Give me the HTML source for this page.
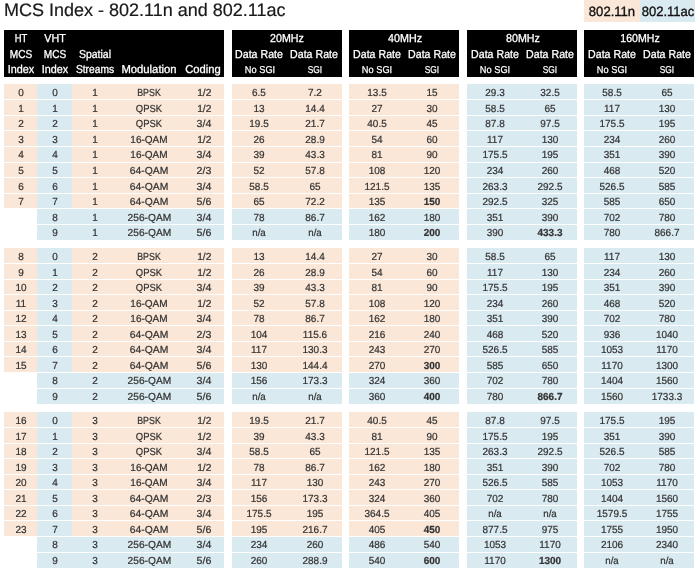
<!DOCTYPE html>
<html><head><meta charset="utf-8"><title>MCS Index</title><style>
html,body{margin:0;padding:0;background:#fff;}
body{filter:blur(0.5px);width:700px;height:572px;position:relative;overflow:hidden;font-family:"Liberation Sans",Arial,sans-serif;text-rendering:geometricPrecision;}
.b{position:absolute;}
.t{position:absolute;height:0;line-height:0;text-align:center;white-space:nowrap;}
.d{font-size:10.2px;color:#333333;-webkit-text-stroke:0.22px #333333;}
.m{font-size:10.2px;color:#333333;-webkit-text-stroke:0.22px #333333;}
.bo{font-weight:bold;}
.h{font-size:11.5px;color:#ffffff;-webkit-text-stroke:0.3px #ffffff;}
.s{font-size:10px;color:#ffffff;-webkit-text-stroke:0.25px #ffffff;}
.leg{font-size:13.5px;color:#111;-webkit-text-stroke:0.35px #111;}
.title{position:absolute;left:4px;top:0;font-size:18px;color:#1a1a1a;-webkit-text-stroke:0.2px #1a1a1a;white-space:nowrap;line-height:21px;}
</style></head>
<body>
<div class="title">MCS Index - 802.11n and 802.11ac</div>
<div class="b" style="left:584.4px;top:0px;width:55.20px;height:22.00px;background:#fbe7d7"></div>
<div class="b" style="left:639.6px;top:0px;width:55.20px;height:22.00px;background:#daeaf1"></div>
<div class="t leg" style="left:582.20px;top:11.92px;width:60px;transform:scaleX(0.969)">802.11n</div>
<div class="t leg" style="left:637.70px;top:11.92px;width:60px;transform:scaleX(0.964)">802.11ac</div>
<div class="b" style="left:4px;top:30px;width:220.00px;height:46.60px;background:#000"></div>
<div class="b" style="left:231.8px;top:30px;width:110.00px;height:46.60px;background:#000"></div>
<div class="b" style="left:349.4px;top:30px;width:110.00px;height:46.60px;background:#000"></div>
<div class="b" style="left:467.0px;top:30px;width:110.00px;height:46.60px;background:#000"></div>
<div class="b" style="left:584.4px;top:30px;width:110.00px;height:46.60px;background:#000"></div>
<div class="t h" style="left:-19.40px;top:38.92px;width:80px;transform:scaleX(0.819)">HT</div>
<div class="t h" style="left:14.60px;top:38.92px;width:80px;transform:scaleX(0.935)">VHT</div>
<div class="t h" style="left:-19.10px;top:54.72px;width:80px;transform:scaleX(0.877)">MCS</div>
<div class="t h" style="left:14.90px;top:54.72px;width:80px;transform:scaleX(0.877)">MCS</div>
<div class="t h" style="left:54.50px;top:54.72px;width:80px;transform:scaleX(0.911)">Spatial</div>
<div class="t h" style="left:-19.00px;top:69.72px;width:80px;transform:scaleX(0.939)">Index</div>
<div class="t h" style="left:15.00px;top:69.72px;width:80px;transform:scaleX(0.939)">Index</div>
<div class="t h" style="left:55.00px;top:69.72px;width:80px;transform:scaleX(0.891)">Streams</div>
<div class="t h" style="left:109.10px;top:69.72px;width:80px;transform:scaleX(0.979)">Modulation</div>
<div class="t h" style="left:162.60px;top:69.72px;width:80px;transform:scaleX(0.973)">Coding</div>
<div class="t h" style="left:247.30px;top:38.72px;width:80px;transform:scaleX(0.927)">20MHz</div>
<div class="t h" style="left:219.30px;top:54.72px;width:80px;transform:scaleX(0.923)">Data Rate</div>
<div class="t h" style="left:274.30px;top:54.72px;width:80px;transform:scaleX(0.923)">Data Rate</div>
<div class="t s" style="left:219.60px;top:70.83px;width:80px;transform:scaleX(0.924)">No SGI</div>
<div class="t s" style="left:274.60px;top:70.83px;width:80px;transform:scaleX(0.835)">SGI</div>
<div class="t h" style="left:364.90px;top:38.72px;width:80px;transform:scaleX(0.935)">40MHz</div>
<div class="t h" style="left:336.90px;top:54.72px;width:80px;transform:scaleX(0.923)">Data Rate</div>
<div class="t h" style="left:391.90px;top:54.72px;width:80px;transform:scaleX(0.923)">Data Rate</div>
<div class="t s" style="left:337.20px;top:70.83px;width:80px;transform:scaleX(0.924)">No SGI</div>
<div class="t s" style="left:392.20px;top:70.83px;width:80px;transform:scaleX(0.835)">SGI</div>
<div class="t h" style="left:482.50px;top:38.72px;width:80px;transform:scaleX(0.930)">80MHz</div>
<div class="t h" style="left:454.50px;top:54.72px;width:80px;transform:scaleX(0.923)">Data Rate</div>
<div class="t h" style="left:509.50px;top:54.72px;width:80px;transform:scaleX(0.923)">Data Rate</div>
<div class="t s" style="left:454.80px;top:70.83px;width:80px;transform:scaleX(0.924)">No SGI</div>
<div class="t s" style="left:509.80px;top:70.83px;width:80px;transform:scaleX(0.835)">SGI</div>
<div class="t h" style="left:599.90px;top:38.72px;width:80px;transform:scaleX(0.921)">160MHz</div>
<div class="t h" style="left:571.90px;top:54.72px;width:80px;transform:scaleX(0.923)">Data Rate</div>
<div class="t h" style="left:626.90px;top:54.72px;width:80px;transform:scaleX(0.923)">Data Rate</div>
<div class="t s" style="left:572.20px;top:70.83px;width:80px;transform:scaleX(0.924)">No SGI</div>
<div class="t s" style="left:627.20px;top:70.83px;width:80px;transform:scaleX(0.835)">SGI</div>
<div class="b" style="left:4px;top:84.3px;width:33.00px;height:15.05px;background:#fbe7d7"></div>
<div class="b" style="left:37px;top:84.3px;width:35.00px;height:15.05px;background:#daeaf1"></div>
<div class="b" style="left:72px;top:84.3px;width:152.00px;height:15.05px;background:#fbe7d7"></div>
<div class="b" style="left:231.8px;top:84.3px;width:110.00px;height:15.05px;background:#fbe7d7"></div>
<div class="b" style="left:349.4px;top:84.3px;width:110.00px;height:15.05px;background:#fbe7d7"></div>
<div class="b" style="left:467.0px;top:84.3px;width:110.00px;height:15.05px;background:#daeaf1"></div>
<div class="b" style="left:584.4px;top:84.3px;width:110.00px;height:15.05px;background:#daeaf1"></div>
<div class="t d" style="left:-19.30px;top:94.27px;width:80px;transform:scaleX(0.980)">0</div>
<div class="t d" style="left:14.90px;top:94.27px;width:80px;transform:scaleX(0.980)">0</div>
<div class="t d" style="left:54.80px;top:94.27px;width:80px;transform:scaleX(0.980)">1</div>
<div class="t m" style="left:109.40px;top:94.27px;width:80px;transform:scaleX(0.870)">BPSK</div>
<div class="t d" style="left:164.30px;top:94.27px;width:80px;transform:scaleX(1.000)">1/2</div>
<div class="t d" style="left:219.40px;top:94.27px;width:80px;transform:scaleX(0.980)">6.5</div>
<div class="t d" style="left:274.60px;top:94.27px;width:80px;transform:scaleX(0.980)">7.2</div>
<div class="t d" style="left:337.00px;top:94.27px;width:80px;transform:scaleX(0.980)">13.5</div>
<div class="t d" style="left:392.20px;top:94.27px;width:80px;transform:scaleX(0.980)">15</div>
<div class="t d" style="left:454.60px;top:94.27px;width:80px;transform:scaleX(0.980)">29.3</div>
<div class="t d" style="left:509.80px;top:94.27px;width:80px;transform:scaleX(0.980)">32.5</div>
<div class="t d" style="left:572.00px;top:94.27px;width:80px;transform:scaleX(0.980)">58.5</div>
<div class="t d" style="left:627.20px;top:94.27px;width:80px;transform:scaleX(0.980)">65</div>
<div class="b" style="left:4px;top:100.35px;width:33.00px;height:14.55px;background:#fbe7d7"></div>
<div class="b" style="left:37px;top:100.35px;width:35.00px;height:14.55px;background:#daeaf1"></div>
<div class="b" style="left:72px;top:100.35px;width:152.00px;height:14.55px;background:#fbe7d7"></div>
<div class="b" style="left:231.8px;top:100.35px;width:110.00px;height:14.55px;background:#fbe7d7"></div>
<div class="b" style="left:349.4px;top:100.35px;width:110.00px;height:14.55px;background:#fbe7d7"></div>
<div class="b" style="left:467.0px;top:100.35px;width:110.00px;height:14.55px;background:#daeaf1"></div>
<div class="b" style="left:584.4px;top:100.35px;width:110.00px;height:14.55px;background:#daeaf1"></div>
<div class="t d" style="left:-19.30px;top:109.82px;width:80px;transform:scaleX(0.980)">1</div>
<div class="t d" style="left:14.90px;top:109.82px;width:80px;transform:scaleX(0.980)">1</div>
<div class="t d" style="left:54.80px;top:109.82px;width:80px;transform:scaleX(0.980)">1</div>
<div class="t m" style="left:109.40px;top:109.82px;width:80px;transform:scaleX(0.929)">QPSK</div>
<div class="t d" style="left:164.30px;top:109.82px;width:80px;transform:scaleX(1.000)">1/2</div>
<div class="t d" style="left:219.40px;top:109.82px;width:80px;transform:scaleX(0.980)">13</div>
<div class="t d" style="left:274.60px;top:109.82px;width:80px;transform:scaleX(0.980)">14.4</div>
<div class="t d" style="left:337.00px;top:109.82px;width:80px;transform:scaleX(0.980)">27</div>
<div class="t d" style="left:392.20px;top:109.82px;width:80px;transform:scaleX(0.980)">30</div>
<div class="t d" style="left:454.60px;top:109.82px;width:80px;transform:scaleX(0.980)">58.5</div>
<div class="t d" style="left:509.80px;top:109.82px;width:80px;transform:scaleX(0.980)">65</div>
<div class="t d" style="left:572.00px;top:109.82px;width:80px;transform:scaleX(0.980)">117</div>
<div class="t d" style="left:627.20px;top:109.82px;width:80px;transform:scaleX(0.980)">130</div>
<div class="b" style="left:4px;top:115.9px;width:33.00px;height:14.55px;background:#fbe7d7"></div>
<div class="b" style="left:37px;top:115.9px;width:35.00px;height:14.55px;background:#daeaf1"></div>
<div class="b" style="left:72px;top:115.9px;width:152.00px;height:14.55px;background:#fbe7d7"></div>
<div class="b" style="left:231.8px;top:115.9px;width:110.00px;height:14.55px;background:#fbe7d7"></div>
<div class="b" style="left:349.4px;top:115.9px;width:110.00px;height:14.55px;background:#fbe7d7"></div>
<div class="b" style="left:467.0px;top:115.9px;width:110.00px;height:14.55px;background:#daeaf1"></div>
<div class="b" style="left:584.4px;top:115.9px;width:110.00px;height:14.55px;background:#daeaf1"></div>
<div class="t d" style="left:-19.30px;top:125.37px;width:80px;transform:scaleX(0.980)">2</div>
<div class="t d" style="left:14.90px;top:125.37px;width:80px;transform:scaleX(0.980)">2</div>
<div class="t d" style="left:54.80px;top:125.37px;width:80px;transform:scaleX(0.980)">1</div>
<div class="t m" style="left:109.40px;top:125.37px;width:80px;transform:scaleX(0.929)">QPSK</div>
<div class="t d" style="left:164.30px;top:125.37px;width:80px;transform:scaleX(1.043)">3/4</div>
<div class="t d" style="left:219.40px;top:125.37px;width:80px;transform:scaleX(0.980)">19.5</div>
<div class="t d" style="left:274.60px;top:125.37px;width:80px;transform:scaleX(0.980)">21.7</div>
<div class="t d" style="left:337.00px;top:125.37px;width:80px;transform:scaleX(0.980)">40.5</div>
<div class="t d" style="left:392.20px;top:125.37px;width:80px;transform:scaleX(0.980)">45</div>
<div class="t d" style="left:454.60px;top:125.37px;width:80px;transform:scaleX(0.980)">87.8</div>
<div class="t d" style="left:509.80px;top:125.37px;width:80px;transform:scaleX(0.980)">97.5</div>
<div class="t d" style="left:572.00px;top:125.37px;width:80px;transform:scaleX(0.980)">175.5</div>
<div class="t d" style="left:627.20px;top:125.37px;width:80px;transform:scaleX(0.980)">195</div>
<div class="b" style="left:4px;top:131.45px;width:33.00px;height:14.55px;background:#fbe7d7"></div>
<div class="b" style="left:37px;top:131.45px;width:35.00px;height:14.55px;background:#daeaf1"></div>
<div class="b" style="left:72px;top:131.45px;width:152.00px;height:14.55px;background:#fbe7d7"></div>
<div class="b" style="left:231.8px;top:131.45px;width:110.00px;height:14.55px;background:#fbe7d7"></div>
<div class="b" style="left:349.4px;top:131.45px;width:110.00px;height:14.55px;background:#fbe7d7"></div>
<div class="b" style="left:467.0px;top:131.45px;width:110.00px;height:14.55px;background:#daeaf1"></div>
<div class="b" style="left:584.4px;top:131.45px;width:110.00px;height:14.55px;background:#daeaf1"></div>
<div class="t d" style="left:-19.30px;top:140.92px;width:80px;transform:scaleX(0.980)">3</div>
<div class="t d" style="left:14.90px;top:140.92px;width:80px;transform:scaleX(0.980)">3</div>
<div class="t d" style="left:54.80px;top:140.92px;width:80px;transform:scaleX(0.980)">1</div>
<div class="t m" style="left:109.40px;top:140.92px;width:80px;transform:scaleX(0.984)">16-QAM</div>
<div class="t d" style="left:164.30px;top:140.92px;width:80px;transform:scaleX(1.000)">1/2</div>
<div class="t d" style="left:219.40px;top:140.92px;width:80px;transform:scaleX(0.980)">26</div>
<div class="t d" style="left:274.60px;top:140.92px;width:80px;transform:scaleX(0.980)">28.9</div>
<div class="t d" style="left:337.00px;top:140.92px;width:80px;transform:scaleX(0.980)">54</div>
<div class="t d" style="left:392.20px;top:140.92px;width:80px;transform:scaleX(0.980)">60</div>
<div class="t d" style="left:454.60px;top:140.92px;width:80px;transform:scaleX(0.980)">117</div>
<div class="t d" style="left:509.80px;top:140.92px;width:80px;transform:scaleX(0.980)">130</div>
<div class="t d" style="left:572.00px;top:140.92px;width:80px;transform:scaleX(0.980)">234</div>
<div class="t d" style="left:627.20px;top:140.92px;width:80px;transform:scaleX(0.980)">260</div>
<div class="b" style="left:4px;top:147.0px;width:33.00px;height:14.55px;background:#fbe7d7"></div>
<div class="b" style="left:37px;top:147.0px;width:35.00px;height:14.55px;background:#daeaf1"></div>
<div class="b" style="left:72px;top:147.0px;width:152.00px;height:14.55px;background:#fbe7d7"></div>
<div class="b" style="left:231.8px;top:147.0px;width:110.00px;height:14.55px;background:#fbe7d7"></div>
<div class="b" style="left:349.4px;top:147.0px;width:110.00px;height:14.55px;background:#fbe7d7"></div>
<div class="b" style="left:467.0px;top:147.0px;width:110.00px;height:14.55px;background:#daeaf1"></div>
<div class="b" style="left:584.4px;top:147.0px;width:110.00px;height:14.55px;background:#daeaf1"></div>
<div class="t d" style="left:-19.30px;top:156.47px;width:80px;transform:scaleX(0.980)">4</div>
<div class="t d" style="left:14.90px;top:156.47px;width:80px;transform:scaleX(0.980)">4</div>
<div class="t d" style="left:54.80px;top:156.47px;width:80px;transform:scaleX(0.980)">1</div>
<div class="t m" style="left:109.40px;top:156.47px;width:80px;transform:scaleX(0.984)">16-QAM</div>
<div class="t d" style="left:164.30px;top:156.47px;width:80px;transform:scaleX(1.043)">3/4</div>
<div class="t d" style="left:219.40px;top:156.47px;width:80px;transform:scaleX(0.980)">39</div>
<div class="t d" style="left:274.60px;top:156.47px;width:80px;transform:scaleX(0.980)">43.3</div>
<div class="t d" style="left:337.00px;top:156.47px;width:80px;transform:scaleX(0.980)">81</div>
<div class="t d" style="left:392.20px;top:156.47px;width:80px;transform:scaleX(0.980)">90</div>
<div class="t d" style="left:454.60px;top:156.47px;width:80px;transform:scaleX(0.980)">175.5</div>
<div class="t d" style="left:509.80px;top:156.47px;width:80px;transform:scaleX(0.980)">195</div>
<div class="t d" style="left:572.00px;top:156.47px;width:80px;transform:scaleX(0.980)">351</div>
<div class="t d" style="left:627.20px;top:156.47px;width:80px;transform:scaleX(0.980)">390</div>
<div class="b" style="left:4px;top:162.55px;width:33.00px;height:14.55px;background:#fbe7d7"></div>
<div class="b" style="left:37px;top:162.55px;width:35.00px;height:14.55px;background:#daeaf1"></div>
<div class="b" style="left:72px;top:162.55px;width:152.00px;height:14.55px;background:#fbe7d7"></div>
<div class="b" style="left:231.8px;top:162.55px;width:110.00px;height:14.55px;background:#fbe7d7"></div>
<div class="b" style="left:349.4px;top:162.55px;width:110.00px;height:14.55px;background:#fbe7d7"></div>
<div class="b" style="left:467.0px;top:162.55px;width:110.00px;height:14.55px;background:#daeaf1"></div>
<div class="b" style="left:584.4px;top:162.55px;width:110.00px;height:14.55px;background:#daeaf1"></div>
<div class="t d" style="left:-19.30px;top:172.02px;width:80px;transform:scaleX(0.980)">5</div>
<div class="t d" style="left:14.90px;top:172.02px;width:80px;transform:scaleX(0.980)">5</div>
<div class="t d" style="left:54.80px;top:172.02px;width:80px;transform:scaleX(0.980)">1</div>
<div class="t m" style="left:109.40px;top:172.02px;width:80px;transform:scaleX(1.016)">64-QAM</div>
<div class="t d" style="left:164.30px;top:172.02px;width:80px;transform:scaleX(1.043)">2/3</div>
<div class="t d" style="left:219.40px;top:172.02px;width:80px;transform:scaleX(0.980)">52</div>
<div class="t d" style="left:274.60px;top:172.02px;width:80px;transform:scaleX(0.980)">57.8</div>
<div class="t d" style="left:337.00px;top:172.02px;width:80px;transform:scaleX(0.980)">108</div>
<div class="t d" style="left:392.20px;top:172.02px;width:80px;transform:scaleX(0.980)">120</div>
<div class="t d" style="left:454.60px;top:172.02px;width:80px;transform:scaleX(0.980)">234</div>
<div class="t d" style="left:509.80px;top:172.02px;width:80px;transform:scaleX(0.980)">260</div>
<div class="t d" style="left:572.00px;top:172.02px;width:80px;transform:scaleX(0.980)">468</div>
<div class="t d" style="left:627.20px;top:172.02px;width:80px;transform:scaleX(0.980)">520</div>
<div class="b" style="left:4px;top:178.10000000000002px;width:33.00px;height:14.55px;background:#fbe7d7"></div>
<div class="b" style="left:37px;top:178.10000000000002px;width:35.00px;height:14.55px;background:#daeaf1"></div>
<div class="b" style="left:72px;top:178.10000000000002px;width:152.00px;height:14.55px;background:#fbe7d7"></div>
<div class="b" style="left:231.8px;top:178.10000000000002px;width:110.00px;height:14.55px;background:#fbe7d7"></div>
<div class="b" style="left:349.4px;top:178.10000000000002px;width:110.00px;height:14.55px;background:#fbe7d7"></div>
<div class="b" style="left:467.0px;top:178.10000000000002px;width:110.00px;height:14.55px;background:#daeaf1"></div>
<div class="b" style="left:584.4px;top:178.10000000000002px;width:110.00px;height:14.55px;background:#daeaf1"></div>
<div class="t d" style="left:-19.30px;top:187.57px;width:80px;transform:scaleX(0.980)">6</div>
<div class="t d" style="left:14.90px;top:187.57px;width:80px;transform:scaleX(0.980)">6</div>
<div class="t d" style="left:54.80px;top:187.57px;width:80px;transform:scaleX(0.980)">1</div>
<div class="t m" style="left:109.40px;top:187.57px;width:80px;transform:scaleX(1.016)">64-QAM</div>
<div class="t d" style="left:164.30px;top:187.57px;width:80px;transform:scaleX(1.043)">3/4</div>
<div class="t d" style="left:219.40px;top:187.57px;width:80px;transform:scaleX(0.980)">58.5</div>
<div class="t d" style="left:274.60px;top:187.57px;width:80px;transform:scaleX(0.980)">65</div>
<div class="t d" style="left:337.00px;top:187.57px;width:80px;transform:scaleX(0.980)">121.5</div>
<div class="t d" style="left:392.20px;top:187.57px;width:80px;transform:scaleX(0.980)">135</div>
<div class="t d" style="left:454.60px;top:187.57px;width:80px;transform:scaleX(0.980)">263.3</div>
<div class="t d" style="left:509.80px;top:187.57px;width:80px;transform:scaleX(0.980)">292.5</div>
<div class="t d" style="left:572.00px;top:187.57px;width:80px;transform:scaleX(0.980)">526.5</div>
<div class="t d" style="left:627.20px;top:187.57px;width:80px;transform:scaleX(0.980)">585</div>
<div class="b" style="left:4px;top:193.65px;width:33.00px;height:14.55px;background:#fbe7d7"></div>
<div class="b" style="left:37px;top:193.65px;width:35.00px;height:14.55px;background:#daeaf1"></div>
<div class="b" style="left:72px;top:193.65px;width:152.00px;height:14.55px;background:#fbe7d7"></div>
<div class="b" style="left:231.8px;top:193.65px;width:110.00px;height:14.55px;background:#fbe7d7"></div>
<div class="b" style="left:349.4px;top:193.65px;width:110.00px;height:14.55px;background:#fbe7d7"></div>
<div class="b" style="left:467.0px;top:193.65px;width:110.00px;height:14.55px;background:#daeaf1"></div>
<div class="b" style="left:584.4px;top:193.65px;width:110.00px;height:14.55px;background:#daeaf1"></div>
<div class="t d" style="left:-19.30px;top:203.12px;width:80px;transform:scaleX(0.980)">7</div>
<div class="t d" style="left:14.90px;top:203.12px;width:80px;transform:scaleX(0.980)">7</div>
<div class="t d" style="left:54.80px;top:203.12px;width:80px;transform:scaleX(0.980)">1</div>
<div class="t m" style="left:109.40px;top:203.12px;width:80px;transform:scaleX(1.016)">64-QAM</div>
<div class="t d" style="left:164.30px;top:203.12px;width:80px;transform:scaleX(1.043)">5/6</div>
<div class="t d" style="left:219.40px;top:203.12px;width:80px;transform:scaleX(0.980)">65</div>
<div class="t d" style="left:274.60px;top:203.12px;width:80px;transform:scaleX(0.980)">72.2</div>
<div class="t d" style="left:337.00px;top:203.12px;width:80px;transform:scaleX(0.980)">135</div>
<div class="t d bo" style="left:392.20px;top:203.12px;width:80px;transform:scaleX(0.980)">150</div>
<div class="t d" style="left:454.60px;top:203.12px;width:80px;transform:scaleX(0.980)">292.5</div>
<div class="t d" style="left:509.80px;top:203.12px;width:80px;transform:scaleX(0.980)">325</div>
<div class="t d" style="left:572.00px;top:203.12px;width:80px;transform:scaleX(0.980)">585</div>
<div class="t d" style="left:627.20px;top:203.12px;width:80px;transform:scaleX(0.980)">650</div>
<div class="b" style="left:37px;top:209.2px;width:187.00px;height:14.55px;background:#daeaf1"></div>
<div class="b" style="left:231.8px;top:209.2px;width:110.00px;height:14.55px;background:#daeaf1"></div>
<div class="b" style="left:349.4px;top:209.2px;width:110.00px;height:14.55px;background:#daeaf1"></div>
<div class="b" style="left:467.0px;top:209.2px;width:110.00px;height:14.55px;background:#daeaf1"></div>
<div class="b" style="left:584.4px;top:209.2px;width:110.00px;height:14.55px;background:#daeaf1"></div>
<div class="t d" style="left:14.90px;top:218.67px;width:80px;transform:scaleX(0.980)">8</div>
<div class="t d" style="left:54.80px;top:218.67px;width:80px;transform:scaleX(0.980)">1</div>
<div class="t m" style="left:109.40px;top:218.67px;width:80px;transform:scaleX(1.000)">256-QAM</div>
<div class="t d" style="left:164.30px;top:218.67px;width:80px;transform:scaleX(1.043)">3/4</div>
<div class="t d" style="left:219.40px;top:218.67px;width:80px;transform:scaleX(0.980)">78</div>
<div class="t d" style="left:274.60px;top:218.67px;width:80px;transform:scaleX(0.980)">86.7</div>
<div class="t d" style="left:337.00px;top:218.67px;width:80px;transform:scaleX(0.980)">162</div>
<div class="t d" style="left:392.20px;top:218.67px;width:80px;transform:scaleX(0.980)">180</div>
<div class="t d" style="left:454.60px;top:218.67px;width:80px;transform:scaleX(0.980)">351</div>
<div class="t d" style="left:509.80px;top:218.67px;width:80px;transform:scaleX(0.980)">390</div>
<div class="t d" style="left:572.00px;top:218.67px;width:80px;transform:scaleX(0.980)">702</div>
<div class="t d" style="left:627.20px;top:218.67px;width:80px;transform:scaleX(0.980)">780</div>
<div class="b" style="left:37px;top:224.75px;width:187.00px;height:15.05px;background:#daeaf1"></div>
<div class="b" style="left:231.8px;top:224.75px;width:110.00px;height:15.05px;background:#daeaf1"></div>
<div class="b" style="left:349.4px;top:224.75px;width:110.00px;height:15.05px;background:#daeaf1"></div>
<div class="b" style="left:467.0px;top:224.75px;width:110.00px;height:15.05px;background:#daeaf1"></div>
<div class="b" style="left:584.4px;top:224.75px;width:110.00px;height:15.05px;background:#daeaf1"></div>
<div class="t d" style="left:14.90px;top:234.22px;width:80px;transform:scaleX(0.980)">9</div>
<div class="t d" style="left:54.80px;top:234.22px;width:80px;transform:scaleX(0.980)">1</div>
<div class="t m" style="left:109.40px;top:234.22px;width:80px;transform:scaleX(1.000)">256-QAM</div>
<div class="t d" style="left:164.30px;top:234.22px;width:80px;transform:scaleX(1.043)">5/6</div>
<div class="t m" style="left:219.40px;top:234.22px;width:80px;transform:scaleX(0.953)">n/a</div>
<div class="t m" style="left:274.60px;top:234.22px;width:80px;transform:scaleX(0.953)">n/a</div>
<div class="t d" style="left:337.00px;top:234.22px;width:80px;transform:scaleX(0.980)">180</div>
<div class="t d bo" style="left:392.20px;top:234.22px;width:80px;transform:scaleX(0.980)">200</div>
<div class="t d" style="left:454.60px;top:234.22px;width:80px;transform:scaleX(0.980)">390</div>
<div class="t d bo" style="left:509.80px;top:234.22px;width:80px;transform:scaleX(0.980)">433.3</div>
<div class="t d" style="left:572.00px;top:234.22px;width:80px;transform:scaleX(0.980)">780</div>
<div class="t d" style="left:627.20px;top:234.22px;width:80px;transform:scaleX(0.980)">866.7</div>
<div class="b" style="left:4px;top:248.1px;width:33.00px;height:15.05px;background:#fbe7d7"></div>
<div class="b" style="left:37px;top:248.1px;width:35.00px;height:15.05px;background:#daeaf1"></div>
<div class="b" style="left:72px;top:248.1px;width:152.00px;height:15.05px;background:#fbe7d7"></div>
<div class="b" style="left:231.8px;top:248.1px;width:110.00px;height:15.05px;background:#fbe7d7"></div>
<div class="b" style="left:349.4px;top:248.1px;width:110.00px;height:15.05px;background:#fbe7d7"></div>
<div class="b" style="left:467.0px;top:248.1px;width:110.00px;height:15.05px;background:#daeaf1"></div>
<div class="b" style="left:584.4px;top:248.1px;width:110.00px;height:15.05px;background:#daeaf1"></div>
<div class="t d" style="left:-19.30px;top:258.07px;width:80px;transform:scaleX(0.980)">8</div>
<div class="t d" style="left:14.90px;top:258.07px;width:80px;transform:scaleX(0.980)">0</div>
<div class="t d" style="left:54.80px;top:258.07px;width:80px;transform:scaleX(0.980)">2</div>
<div class="t m" style="left:109.40px;top:258.07px;width:80px;transform:scaleX(0.870)">BPSK</div>
<div class="t d" style="left:164.30px;top:258.07px;width:80px;transform:scaleX(1.000)">1/2</div>
<div class="t d" style="left:219.40px;top:258.07px;width:80px;transform:scaleX(0.980)">13</div>
<div class="t d" style="left:274.60px;top:258.07px;width:80px;transform:scaleX(0.980)">14.4</div>
<div class="t d" style="left:337.00px;top:258.07px;width:80px;transform:scaleX(0.980)">27</div>
<div class="t d" style="left:392.20px;top:258.07px;width:80px;transform:scaleX(0.980)">30</div>
<div class="t d" style="left:454.60px;top:258.07px;width:80px;transform:scaleX(0.980)">58.5</div>
<div class="t d" style="left:509.80px;top:258.07px;width:80px;transform:scaleX(0.980)">65</div>
<div class="t d" style="left:572.00px;top:258.07px;width:80px;transform:scaleX(0.980)">117</div>
<div class="t d" style="left:627.20px;top:258.07px;width:80px;transform:scaleX(0.980)">130</div>
<div class="b" style="left:4px;top:264.15px;width:33.00px;height:14.55px;background:#fbe7d7"></div>
<div class="b" style="left:37px;top:264.15px;width:35.00px;height:14.55px;background:#daeaf1"></div>
<div class="b" style="left:72px;top:264.15px;width:152.00px;height:14.55px;background:#fbe7d7"></div>
<div class="b" style="left:231.8px;top:264.15px;width:110.00px;height:14.55px;background:#fbe7d7"></div>
<div class="b" style="left:349.4px;top:264.15px;width:110.00px;height:14.55px;background:#fbe7d7"></div>
<div class="b" style="left:467.0px;top:264.15px;width:110.00px;height:14.55px;background:#daeaf1"></div>
<div class="b" style="left:584.4px;top:264.15px;width:110.00px;height:14.55px;background:#daeaf1"></div>
<div class="t d" style="left:-19.30px;top:273.62px;width:80px;transform:scaleX(0.980)">9</div>
<div class="t d" style="left:14.90px;top:273.62px;width:80px;transform:scaleX(0.980)">1</div>
<div class="t d" style="left:54.80px;top:273.62px;width:80px;transform:scaleX(0.980)">2</div>
<div class="t m" style="left:109.40px;top:273.62px;width:80px;transform:scaleX(0.929)">QPSK</div>
<div class="t d" style="left:164.30px;top:273.62px;width:80px;transform:scaleX(1.000)">1/2</div>
<div class="t d" style="left:219.40px;top:273.62px;width:80px;transform:scaleX(0.980)">26</div>
<div class="t d" style="left:274.60px;top:273.62px;width:80px;transform:scaleX(0.980)">28.9</div>
<div class="t d" style="left:337.00px;top:273.62px;width:80px;transform:scaleX(0.980)">54</div>
<div class="t d" style="left:392.20px;top:273.62px;width:80px;transform:scaleX(0.980)">60</div>
<div class="t d" style="left:454.60px;top:273.62px;width:80px;transform:scaleX(0.980)">117</div>
<div class="t d" style="left:509.80px;top:273.62px;width:80px;transform:scaleX(0.980)">130</div>
<div class="t d" style="left:572.00px;top:273.62px;width:80px;transform:scaleX(0.980)">234</div>
<div class="t d" style="left:627.20px;top:273.62px;width:80px;transform:scaleX(0.980)">260</div>
<div class="b" style="left:4px;top:279.7px;width:33.00px;height:14.55px;background:#fbe7d7"></div>
<div class="b" style="left:37px;top:279.7px;width:35.00px;height:14.55px;background:#daeaf1"></div>
<div class="b" style="left:72px;top:279.7px;width:152.00px;height:14.55px;background:#fbe7d7"></div>
<div class="b" style="left:231.8px;top:279.7px;width:110.00px;height:14.55px;background:#fbe7d7"></div>
<div class="b" style="left:349.4px;top:279.7px;width:110.00px;height:14.55px;background:#fbe7d7"></div>
<div class="b" style="left:467.0px;top:279.7px;width:110.00px;height:14.55px;background:#daeaf1"></div>
<div class="b" style="left:584.4px;top:279.7px;width:110.00px;height:14.55px;background:#daeaf1"></div>
<div class="t d" style="left:-19.30px;top:289.17px;width:80px;transform:scaleX(0.980)">10</div>
<div class="t d" style="left:14.90px;top:289.17px;width:80px;transform:scaleX(0.980)">2</div>
<div class="t d" style="left:54.80px;top:289.17px;width:80px;transform:scaleX(0.980)">2</div>
<div class="t m" style="left:109.40px;top:289.17px;width:80px;transform:scaleX(0.929)">QPSK</div>
<div class="t d" style="left:164.30px;top:289.17px;width:80px;transform:scaleX(1.043)">3/4</div>
<div class="t d" style="left:219.40px;top:289.17px;width:80px;transform:scaleX(0.980)">39</div>
<div class="t d" style="left:274.60px;top:289.17px;width:80px;transform:scaleX(0.980)">43.3</div>
<div class="t d" style="left:337.00px;top:289.17px;width:80px;transform:scaleX(0.980)">81</div>
<div class="t d" style="left:392.20px;top:289.17px;width:80px;transform:scaleX(0.980)">90</div>
<div class="t d" style="left:454.60px;top:289.17px;width:80px;transform:scaleX(0.980)">175.5</div>
<div class="t d" style="left:509.80px;top:289.17px;width:80px;transform:scaleX(0.980)">195</div>
<div class="t d" style="left:572.00px;top:289.17px;width:80px;transform:scaleX(0.980)">351</div>
<div class="t d" style="left:627.20px;top:289.17px;width:80px;transform:scaleX(0.980)">390</div>
<div class="b" style="left:4px;top:295.25px;width:33.00px;height:14.55px;background:#fbe7d7"></div>
<div class="b" style="left:37px;top:295.25px;width:35.00px;height:14.55px;background:#daeaf1"></div>
<div class="b" style="left:72px;top:295.25px;width:152.00px;height:14.55px;background:#fbe7d7"></div>
<div class="b" style="left:231.8px;top:295.25px;width:110.00px;height:14.55px;background:#fbe7d7"></div>
<div class="b" style="left:349.4px;top:295.25px;width:110.00px;height:14.55px;background:#fbe7d7"></div>
<div class="b" style="left:467.0px;top:295.25px;width:110.00px;height:14.55px;background:#daeaf1"></div>
<div class="b" style="left:584.4px;top:295.25px;width:110.00px;height:14.55px;background:#daeaf1"></div>
<div class="t d" style="left:-19.30px;top:304.72px;width:80px;transform:scaleX(0.980)">11</div>
<div class="t d" style="left:14.90px;top:304.72px;width:80px;transform:scaleX(0.980)">3</div>
<div class="t d" style="left:54.80px;top:304.72px;width:80px;transform:scaleX(0.980)">2</div>
<div class="t m" style="left:109.40px;top:304.72px;width:80px;transform:scaleX(0.984)">16-QAM</div>
<div class="t d" style="left:164.30px;top:304.72px;width:80px;transform:scaleX(1.000)">1/2</div>
<div class="t d" style="left:219.40px;top:304.72px;width:80px;transform:scaleX(0.980)">52</div>
<div class="t d" style="left:274.60px;top:304.72px;width:80px;transform:scaleX(0.980)">57.8</div>
<div class="t d" style="left:337.00px;top:304.72px;width:80px;transform:scaleX(0.980)">108</div>
<div class="t d" style="left:392.20px;top:304.72px;width:80px;transform:scaleX(0.980)">120</div>
<div class="t d" style="left:454.60px;top:304.72px;width:80px;transform:scaleX(0.980)">234</div>
<div class="t d" style="left:509.80px;top:304.72px;width:80px;transform:scaleX(0.980)">260</div>
<div class="t d" style="left:572.00px;top:304.72px;width:80px;transform:scaleX(0.980)">468</div>
<div class="t d" style="left:627.20px;top:304.72px;width:80px;transform:scaleX(0.980)">520</div>
<div class="b" style="left:4px;top:310.8px;width:33.00px;height:14.55px;background:#fbe7d7"></div>
<div class="b" style="left:37px;top:310.8px;width:35.00px;height:14.55px;background:#daeaf1"></div>
<div class="b" style="left:72px;top:310.8px;width:152.00px;height:14.55px;background:#fbe7d7"></div>
<div class="b" style="left:231.8px;top:310.8px;width:110.00px;height:14.55px;background:#fbe7d7"></div>
<div class="b" style="left:349.4px;top:310.8px;width:110.00px;height:14.55px;background:#fbe7d7"></div>
<div class="b" style="left:467.0px;top:310.8px;width:110.00px;height:14.55px;background:#daeaf1"></div>
<div class="b" style="left:584.4px;top:310.8px;width:110.00px;height:14.55px;background:#daeaf1"></div>
<div class="t d" style="left:-19.30px;top:320.27px;width:80px;transform:scaleX(0.980)">12</div>
<div class="t d" style="left:14.90px;top:320.27px;width:80px;transform:scaleX(0.980)">4</div>
<div class="t d" style="left:54.80px;top:320.27px;width:80px;transform:scaleX(0.980)">2</div>
<div class="t m" style="left:109.40px;top:320.27px;width:80px;transform:scaleX(0.984)">16-QAM</div>
<div class="t d" style="left:164.30px;top:320.27px;width:80px;transform:scaleX(1.043)">3/4</div>
<div class="t d" style="left:219.40px;top:320.27px;width:80px;transform:scaleX(0.980)">78</div>
<div class="t d" style="left:274.60px;top:320.27px;width:80px;transform:scaleX(0.980)">86.7</div>
<div class="t d" style="left:337.00px;top:320.27px;width:80px;transform:scaleX(0.980)">162</div>
<div class="t d" style="left:392.20px;top:320.27px;width:80px;transform:scaleX(0.980)">180</div>
<div class="t d" style="left:454.60px;top:320.27px;width:80px;transform:scaleX(0.980)">351</div>
<div class="t d" style="left:509.80px;top:320.27px;width:80px;transform:scaleX(0.980)">390</div>
<div class="t d" style="left:572.00px;top:320.27px;width:80px;transform:scaleX(0.980)">702</div>
<div class="t d" style="left:627.20px;top:320.27px;width:80px;transform:scaleX(0.980)">780</div>
<div class="b" style="left:4px;top:326.35px;width:33.00px;height:14.55px;background:#fbe7d7"></div>
<div class="b" style="left:37px;top:326.35px;width:35.00px;height:14.55px;background:#daeaf1"></div>
<div class="b" style="left:72px;top:326.35px;width:152.00px;height:14.55px;background:#fbe7d7"></div>
<div class="b" style="left:231.8px;top:326.35px;width:110.00px;height:14.55px;background:#fbe7d7"></div>
<div class="b" style="left:349.4px;top:326.35px;width:110.00px;height:14.55px;background:#fbe7d7"></div>
<div class="b" style="left:467.0px;top:326.35px;width:110.00px;height:14.55px;background:#daeaf1"></div>
<div class="b" style="left:584.4px;top:326.35px;width:110.00px;height:14.55px;background:#daeaf1"></div>
<div class="t d" style="left:-19.30px;top:335.82px;width:80px;transform:scaleX(0.980)">13</div>
<div class="t d" style="left:14.90px;top:335.82px;width:80px;transform:scaleX(0.980)">5</div>
<div class="t d" style="left:54.80px;top:335.82px;width:80px;transform:scaleX(0.980)">2</div>
<div class="t m" style="left:109.40px;top:335.82px;width:80px;transform:scaleX(1.016)">64-QAM</div>
<div class="t d" style="left:164.30px;top:335.82px;width:80px;transform:scaleX(1.043)">2/3</div>
<div class="t d" style="left:219.40px;top:335.82px;width:80px;transform:scaleX(0.980)">104</div>
<div class="t d" style="left:274.60px;top:335.82px;width:80px;transform:scaleX(0.980)">115.6</div>
<div class="t d" style="left:337.00px;top:335.82px;width:80px;transform:scaleX(0.980)">216</div>
<div class="t d" style="left:392.20px;top:335.82px;width:80px;transform:scaleX(0.980)">240</div>
<div class="t d" style="left:454.60px;top:335.82px;width:80px;transform:scaleX(0.980)">468</div>
<div class="t d" style="left:509.80px;top:335.82px;width:80px;transform:scaleX(0.980)">520</div>
<div class="t d" style="left:572.00px;top:335.82px;width:80px;transform:scaleX(0.980)">936</div>
<div class="t d" style="left:627.20px;top:335.82px;width:80px;transform:scaleX(0.980)">1040</div>
<div class="b" style="left:4px;top:341.9px;width:33.00px;height:14.55px;background:#fbe7d7"></div>
<div class="b" style="left:37px;top:341.9px;width:35.00px;height:14.55px;background:#daeaf1"></div>
<div class="b" style="left:72px;top:341.9px;width:152.00px;height:14.55px;background:#fbe7d7"></div>
<div class="b" style="left:231.8px;top:341.9px;width:110.00px;height:14.55px;background:#fbe7d7"></div>
<div class="b" style="left:349.4px;top:341.9px;width:110.00px;height:14.55px;background:#fbe7d7"></div>
<div class="b" style="left:467.0px;top:341.9px;width:110.00px;height:14.55px;background:#daeaf1"></div>
<div class="b" style="left:584.4px;top:341.9px;width:110.00px;height:14.55px;background:#daeaf1"></div>
<div class="t d" style="left:-19.30px;top:351.37px;width:80px;transform:scaleX(0.980)">14</div>
<div class="t d" style="left:14.90px;top:351.37px;width:80px;transform:scaleX(0.980)">6</div>
<div class="t d" style="left:54.80px;top:351.37px;width:80px;transform:scaleX(0.980)">2</div>
<div class="t m" style="left:109.40px;top:351.37px;width:80px;transform:scaleX(1.016)">64-QAM</div>
<div class="t d" style="left:164.30px;top:351.37px;width:80px;transform:scaleX(1.043)">3/4</div>
<div class="t d" style="left:219.40px;top:351.37px;width:80px;transform:scaleX(0.980)">117</div>
<div class="t d" style="left:274.60px;top:351.37px;width:80px;transform:scaleX(0.980)">130.3</div>
<div class="t d" style="left:337.00px;top:351.37px;width:80px;transform:scaleX(0.980)">243</div>
<div class="t d" style="left:392.20px;top:351.37px;width:80px;transform:scaleX(0.980)">270</div>
<div class="t d" style="left:454.60px;top:351.37px;width:80px;transform:scaleX(0.980)">526.5</div>
<div class="t d" style="left:509.80px;top:351.37px;width:80px;transform:scaleX(0.980)">585</div>
<div class="t d" style="left:572.00px;top:351.37px;width:80px;transform:scaleX(0.980)">1053</div>
<div class="t d" style="left:627.20px;top:351.37px;width:80px;transform:scaleX(0.980)">1170</div>
<div class="b" style="left:4px;top:357.45px;width:33.00px;height:14.55px;background:#fbe7d7"></div>
<div class="b" style="left:37px;top:357.45px;width:35.00px;height:14.55px;background:#daeaf1"></div>
<div class="b" style="left:72px;top:357.45px;width:152.00px;height:14.55px;background:#fbe7d7"></div>
<div class="b" style="left:231.8px;top:357.45px;width:110.00px;height:14.55px;background:#fbe7d7"></div>
<div class="b" style="left:349.4px;top:357.45px;width:110.00px;height:14.55px;background:#fbe7d7"></div>
<div class="b" style="left:467.0px;top:357.45px;width:110.00px;height:14.55px;background:#daeaf1"></div>
<div class="b" style="left:584.4px;top:357.45px;width:110.00px;height:14.55px;background:#daeaf1"></div>
<div class="t d" style="left:-19.30px;top:366.92px;width:80px;transform:scaleX(0.980)">15</div>
<div class="t d" style="left:14.90px;top:366.92px;width:80px;transform:scaleX(0.980)">7</div>
<div class="t d" style="left:54.80px;top:366.92px;width:80px;transform:scaleX(0.980)">2</div>
<div class="t m" style="left:109.40px;top:366.92px;width:80px;transform:scaleX(1.016)">64-QAM</div>
<div class="t d" style="left:164.30px;top:366.92px;width:80px;transform:scaleX(1.043)">5/6</div>
<div class="t d" style="left:219.40px;top:366.92px;width:80px;transform:scaleX(0.980)">130</div>
<div class="t d" style="left:274.60px;top:366.92px;width:80px;transform:scaleX(0.980)">144.4</div>
<div class="t d" style="left:337.00px;top:366.92px;width:80px;transform:scaleX(0.980)">270</div>
<div class="t d bo" style="left:392.20px;top:366.92px;width:80px;transform:scaleX(0.980)">300</div>
<div class="t d" style="left:454.60px;top:366.92px;width:80px;transform:scaleX(0.980)">585</div>
<div class="t d" style="left:509.80px;top:366.92px;width:80px;transform:scaleX(0.980)">650</div>
<div class="t d" style="left:572.00px;top:366.92px;width:80px;transform:scaleX(0.980)">1170</div>
<div class="t d" style="left:627.20px;top:366.92px;width:80px;transform:scaleX(0.980)">1300</div>
<div class="b" style="left:37px;top:373.0px;width:187.00px;height:14.55px;background:#daeaf1"></div>
<div class="b" style="left:231.8px;top:373.0px;width:110.00px;height:14.55px;background:#daeaf1"></div>
<div class="b" style="left:349.4px;top:373.0px;width:110.00px;height:14.55px;background:#daeaf1"></div>
<div class="b" style="left:467.0px;top:373.0px;width:110.00px;height:14.55px;background:#daeaf1"></div>
<div class="b" style="left:584.4px;top:373.0px;width:110.00px;height:14.55px;background:#daeaf1"></div>
<div class="t d" style="left:14.90px;top:382.47px;width:80px;transform:scaleX(0.980)">8</div>
<div class="t d" style="left:54.80px;top:382.47px;width:80px;transform:scaleX(0.980)">2</div>
<div class="t m" style="left:109.40px;top:382.47px;width:80px;transform:scaleX(1.000)">256-QAM</div>
<div class="t d" style="left:164.30px;top:382.47px;width:80px;transform:scaleX(1.043)">3/4</div>
<div class="t d" style="left:219.40px;top:382.47px;width:80px;transform:scaleX(0.980)">156</div>
<div class="t d" style="left:274.60px;top:382.47px;width:80px;transform:scaleX(0.980)">173.3</div>
<div class="t d" style="left:337.00px;top:382.47px;width:80px;transform:scaleX(0.980)">324</div>
<div class="t d" style="left:392.20px;top:382.47px;width:80px;transform:scaleX(0.980)">360</div>
<div class="t d" style="left:454.60px;top:382.47px;width:80px;transform:scaleX(0.980)">702</div>
<div class="t d" style="left:509.80px;top:382.47px;width:80px;transform:scaleX(0.980)">780</div>
<div class="t d" style="left:572.00px;top:382.47px;width:80px;transform:scaleX(0.980)">1404</div>
<div class="t d" style="left:627.20px;top:382.47px;width:80px;transform:scaleX(0.980)">1560</div>
<div class="b" style="left:37px;top:388.55px;width:187.00px;height:15.05px;background:#daeaf1"></div>
<div class="b" style="left:231.8px;top:388.55px;width:110.00px;height:15.05px;background:#daeaf1"></div>
<div class="b" style="left:349.4px;top:388.55px;width:110.00px;height:15.05px;background:#daeaf1"></div>
<div class="b" style="left:467.0px;top:388.55px;width:110.00px;height:15.05px;background:#daeaf1"></div>
<div class="b" style="left:584.4px;top:388.55px;width:110.00px;height:15.05px;background:#daeaf1"></div>
<div class="t d" style="left:14.90px;top:398.02px;width:80px;transform:scaleX(0.980)">9</div>
<div class="t d" style="left:54.80px;top:398.02px;width:80px;transform:scaleX(0.980)">2</div>
<div class="t m" style="left:109.40px;top:398.02px;width:80px;transform:scaleX(1.000)">256-QAM</div>
<div class="t d" style="left:164.30px;top:398.02px;width:80px;transform:scaleX(1.043)">5/6</div>
<div class="t m" style="left:219.40px;top:398.02px;width:80px;transform:scaleX(0.953)">n/a</div>
<div class="t m" style="left:274.60px;top:398.02px;width:80px;transform:scaleX(0.953)">n/a</div>
<div class="t d" style="left:337.00px;top:398.02px;width:80px;transform:scaleX(0.980)">360</div>
<div class="t d bo" style="left:392.20px;top:398.02px;width:80px;transform:scaleX(0.980)">400</div>
<div class="t d" style="left:454.60px;top:398.02px;width:80px;transform:scaleX(0.980)">780</div>
<div class="t d bo" style="left:509.80px;top:398.02px;width:80px;transform:scaleX(0.980)">866.7</div>
<div class="t d" style="left:572.00px;top:398.02px;width:80px;transform:scaleX(0.980)">1560</div>
<div class="t d" style="left:627.20px;top:398.02px;width:80px;transform:scaleX(0.980)">1733.3</div>
<div class="b" style="left:4px;top:412.1px;width:33.00px;height:15.05px;background:#fbe7d7"></div>
<div class="b" style="left:37px;top:412.1px;width:35.00px;height:15.05px;background:#daeaf1"></div>
<div class="b" style="left:72px;top:412.1px;width:152.00px;height:15.05px;background:#fbe7d7"></div>
<div class="b" style="left:231.8px;top:412.1px;width:110.00px;height:15.05px;background:#fbe7d7"></div>
<div class="b" style="left:349.4px;top:412.1px;width:110.00px;height:15.05px;background:#fbe7d7"></div>
<div class="b" style="left:467.0px;top:412.1px;width:110.00px;height:15.05px;background:#daeaf1"></div>
<div class="b" style="left:584.4px;top:412.1px;width:110.00px;height:15.05px;background:#daeaf1"></div>
<div class="t d" style="left:-19.30px;top:422.07px;width:80px;transform:scaleX(0.980)">16</div>
<div class="t d" style="left:14.90px;top:422.07px;width:80px;transform:scaleX(0.980)">0</div>
<div class="t d" style="left:54.80px;top:422.07px;width:80px;transform:scaleX(0.980)">3</div>
<div class="t m" style="left:109.40px;top:422.07px;width:80px;transform:scaleX(0.870)">BPSK</div>
<div class="t d" style="left:164.30px;top:422.07px;width:80px;transform:scaleX(1.000)">1/2</div>
<div class="t d" style="left:219.40px;top:422.07px;width:80px;transform:scaleX(0.980)">19.5</div>
<div class="t d" style="left:274.60px;top:422.07px;width:80px;transform:scaleX(0.980)">21.7</div>
<div class="t d" style="left:337.00px;top:422.07px;width:80px;transform:scaleX(0.980)">40.5</div>
<div class="t d" style="left:392.20px;top:422.07px;width:80px;transform:scaleX(0.980)">45</div>
<div class="t d" style="left:454.60px;top:422.07px;width:80px;transform:scaleX(0.980)">87.8</div>
<div class="t d" style="left:509.80px;top:422.07px;width:80px;transform:scaleX(0.980)">97.5</div>
<div class="t d" style="left:572.00px;top:422.07px;width:80px;transform:scaleX(0.980)">175.5</div>
<div class="t d" style="left:627.20px;top:422.07px;width:80px;transform:scaleX(0.980)">195</div>
<div class="b" style="left:4px;top:428.15000000000003px;width:33.00px;height:14.55px;background:#fbe7d7"></div>
<div class="b" style="left:37px;top:428.15000000000003px;width:35.00px;height:14.55px;background:#daeaf1"></div>
<div class="b" style="left:72px;top:428.15000000000003px;width:152.00px;height:14.55px;background:#fbe7d7"></div>
<div class="b" style="left:231.8px;top:428.15000000000003px;width:110.00px;height:14.55px;background:#fbe7d7"></div>
<div class="b" style="left:349.4px;top:428.15000000000003px;width:110.00px;height:14.55px;background:#fbe7d7"></div>
<div class="b" style="left:467.0px;top:428.15000000000003px;width:110.00px;height:14.55px;background:#daeaf1"></div>
<div class="b" style="left:584.4px;top:428.15000000000003px;width:110.00px;height:14.55px;background:#daeaf1"></div>
<div class="t d" style="left:-19.30px;top:437.62px;width:80px;transform:scaleX(0.980)">17</div>
<div class="t d" style="left:14.90px;top:437.62px;width:80px;transform:scaleX(0.980)">1</div>
<div class="t d" style="left:54.80px;top:437.62px;width:80px;transform:scaleX(0.980)">3</div>
<div class="t m" style="left:109.40px;top:437.62px;width:80px;transform:scaleX(0.929)">QPSK</div>
<div class="t d" style="left:164.30px;top:437.62px;width:80px;transform:scaleX(1.000)">1/2</div>
<div class="t d" style="left:219.40px;top:437.62px;width:80px;transform:scaleX(0.980)">39</div>
<div class="t d" style="left:274.60px;top:437.62px;width:80px;transform:scaleX(0.980)">43.3</div>
<div class="t d" style="left:337.00px;top:437.62px;width:80px;transform:scaleX(0.980)">81</div>
<div class="t d" style="left:392.20px;top:437.62px;width:80px;transform:scaleX(0.980)">90</div>
<div class="t d" style="left:454.60px;top:437.62px;width:80px;transform:scaleX(0.980)">175.5</div>
<div class="t d" style="left:509.80px;top:437.62px;width:80px;transform:scaleX(0.980)">195</div>
<div class="t d" style="left:572.00px;top:437.62px;width:80px;transform:scaleX(0.980)">351</div>
<div class="t d" style="left:627.20px;top:437.62px;width:80px;transform:scaleX(0.980)">390</div>
<div class="b" style="left:4px;top:443.70000000000005px;width:33.00px;height:14.55px;background:#fbe7d7"></div>
<div class="b" style="left:37px;top:443.70000000000005px;width:35.00px;height:14.55px;background:#daeaf1"></div>
<div class="b" style="left:72px;top:443.70000000000005px;width:152.00px;height:14.55px;background:#fbe7d7"></div>
<div class="b" style="left:231.8px;top:443.70000000000005px;width:110.00px;height:14.55px;background:#fbe7d7"></div>
<div class="b" style="left:349.4px;top:443.70000000000005px;width:110.00px;height:14.55px;background:#fbe7d7"></div>
<div class="b" style="left:467.0px;top:443.70000000000005px;width:110.00px;height:14.55px;background:#daeaf1"></div>
<div class="b" style="left:584.4px;top:443.70000000000005px;width:110.00px;height:14.55px;background:#daeaf1"></div>
<div class="t d" style="left:-19.30px;top:453.17px;width:80px;transform:scaleX(0.980)">18</div>
<div class="t d" style="left:14.90px;top:453.17px;width:80px;transform:scaleX(0.980)">2</div>
<div class="t d" style="left:54.80px;top:453.17px;width:80px;transform:scaleX(0.980)">3</div>
<div class="t m" style="left:109.40px;top:453.17px;width:80px;transform:scaleX(0.929)">QPSK</div>
<div class="t d" style="left:164.30px;top:453.17px;width:80px;transform:scaleX(1.043)">3/4</div>
<div class="t d" style="left:219.40px;top:453.17px;width:80px;transform:scaleX(0.980)">58.5</div>
<div class="t d" style="left:274.60px;top:453.17px;width:80px;transform:scaleX(0.980)">65</div>
<div class="t d" style="left:337.00px;top:453.17px;width:80px;transform:scaleX(0.980)">121.5</div>
<div class="t d" style="left:392.20px;top:453.17px;width:80px;transform:scaleX(0.980)">135</div>
<div class="t d" style="left:454.60px;top:453.17px;width:80px;transform:scaleX(0.980)">263.3</div>
<div class="t d" style="left:509.80px;top:453.17px;width:80px;transform:scaleX(0.980)">292.5</div>
<div class="t d" style="left:572.00px;top:453.17px;width:80px;transform:scaleX(0.980)">526.5</div>
<div class="t d" style="left:627.20px;top:453.17px;width:80px;transform:scaleX(0.980)">585</div>
<div class="b" style="left:4px;top:459.25px;width:33.00px;height:14.55px;background:#fbe7d7"></div>
<div class="b" style="left:37px;top:459.25px;width:35.00px;height:14.55px;background:#daeaf1"></div>
<div class="b" style="left:72px;top:459.25px;width:152.00px;height:14.55px;background:#fbe7d7"></div>
<div class="b" style="left:231.8px;top:459.25px;width:110.00px;height:14.55px;background:#fbe7d7"></div>
<div class="b" style="left:349.4px;top:459.25px;width:110.00px;height:14.55px;background:#fbe7d7"></div>
<div class="b" style="left:467.0px;top:459.25px;width:110.00px;height:14.55px;background:#daeaf1"></div>
<div class="b" style="left:584.4px;top:459.25px;width:110.00px;height:14.55px;background:#daeaf1"></div>
<div class="t d" style="left:-19.30px;top:468.72px;width:80px;transform:scaleX(0.980)">19</div>
<div class="t d" style="left:14.90px;top:468.72px;width:80px;transform:scaleX(0.980)">3</div>
<div class="t d" style="left:54.80px;top:468.72px;width:80px;transform:scaleX(0.980)">3</div>
<div class="t m" style="left:109.40px;top:468.72px;width:80px;transform:scaleX(0.984)">16-QAM</div>
<div class="t d" style="left:164.30px;top:468.72px;width:80px;transform:scaleX(1.000)">1/2</div>
<div class="t d" style="left:219.40px;top:468.72px;width:80px;transform:scaleX(0.980)">78</div>
<div class="t d" style="left:274.60px;top:468.72px;width:80px;transform:scaleX(0.980)">86.7</div>
<div class="t d" style="left:337.00px;top:468.72px;width:80px;transform:scaleX(0.980)">162</div>
<div class="t d" style="left:392.20px;top:468.72px;width:80px;transform:scaleX(0.980)">180</div>
<div class="t d" style="left:454.60px;top:468.72px;width:80px;transform:scaleX(0.980)">351</div>
<div class="t d" style="left:509.80px;top:468.72px;width:80px;transform:scaleX(0.980)">390</div>
<div class="t d" style="left:572.00px;top:468.72px;width:80px;transform:scaleX(0.980)">702</div>
<div class="t d" style="left:627.20px;top:468.72px;width:80px;transform:scaleX(0.980)">780</div>
<div class="b" style="left:4px;top:474.8px;width:33.00px;height:14.55px;background:#fbe7d7"></div>
<div class="b" style="left:37px;top:474.8px;width:35.00px;height:14.55px;background:#daeaf1"></div>
<div class="b" style="left:72px;top:474.8px;width:152.00px;height:14.55px;background:#fbe7d7"></div>
<div class="b" style="left:231.8px;top:474.8px;width:110.00px;height:14.55px;background:#fbe7d7"></div>
<div class="b" style="left:349.4px;top:474.8px;width:110.00px;height:14.55px;background:#fbe7d7"></div>
<div class="b" style="left:467.0px;top:474.8px;width:110.00px;height:14.55px;background:#daeaf1"></div>
<div class="b" style="left:584.4px;top:474.8px;width:110.00px;height:14.55px;background:#daeaf1"></div>
<div class="t d" style="left:-19.30px;top:484.27px;width:80px;transform:scaleX(0.980)">20</div>
<div class="t d" style="left:14.90px;top:484.27px;width:80px;transform:scaleX(0.980)">4</div>
<div class="t d" style="left:54.80px;top:484.27px;width:80px;transform:scaleX(0.980)">3</div>
<div class="t m" style="left:109.40px;top:484.27px;width:80px;transform:scaleX(0.984)">16-QAM</div>
<div class="t d" style="left:164.30px;top:484.27px;width:80px;transform:scaleX(1.043)">3/4</div>
<div class="t d" style="left:219.40px;top:484.27px;width:80px;transform:scaleX(0.980)">117</div>
<div class="t d" style="left:274.60px;top:484.27px;width:80px;transform:scaleX(0.980)">130</div>
<div class="t d" style="left:337.00px;top:484.27px;width:80px;transform:scaleX(0.980)">243</div>
<div class="t d" style="left:392.20px;top:484.27px;width:80px;transform:scaleX(0.980)">270</div>
<div class="t d" style="left:454.60px;top:484.27px;width:80px;transform:scaleX(0.980)">526.5</div>
<div class="t d" style="left:509.80px;top:484.27px;width:80px;transform:scaleX(0.980)">585</div>
<div class="t d" style="left:572.00px;top:484.27px;width:80px;transform:scaleX(0.980)">1053</div>
<div class="t d" style="left:627.20px;top:484.27px;width:80px;transform:scaleX(0.980)">1170</div>
<div class="b" style="left:4px;top:490.35px;width:33.00px;height:14.55px;background:#fbe7d7"></div>
<div class="b" style="left:37px;top:490.35px;width:35.00px;height:14.55px;background:#daeaf1"></div>
<div class="b" style="left:72px;top:490.35px;width:152.00px;height:14.55px;background:#fbe7d7"></div>
<div class="b" style="left:231.8px;top:490.35px;width:110.00px;height:14.55px;background:#fbe7d7"></div>
<div class="b" style="left:349.4px;top:490.35px;width:110.00px;height:14.55px;background:#fbe7d7"></div>
<div class="b" style="left:467.0px;top:490.35px;width:110.00px;height:14.55px;background:#daeaf1"></div>
<div class="b" style="left:584.4px;top:490.35px;width:110.00px;height:14.55px;background:#daeaf1"></div>
<div class="t d" style="left:-19.30px;top:499.82px;width:80px;transform:scaleX(0.980)">21</div>
<div class="t d" style="left:14.90px;top:499.82px;width:80px;transform:scaleX(0.980)">5</div>
<div class="t d" style="left:54.80px;top:499.82px;width:80px;transform:scaleX(0.980)">3</div>
<div class="t m" style="left:109.40px;top:499.82px;width:80px;transform:scaleX(1.016)">64-QAM</div>
<div class="t d" style="left:164.30px;top:499.82px;width:80px;transform:scaleX(1.043)">2/3</div>
<div class="t d" style="left:219.40px;top:499.82px;width:80px;transform:scaleX(0.980)">156</div>
<div class="t d" style="left:274.60px;top:499.82px;width:80px;transform:scaleX(0.980)">173.3</div>
<div class="t d" style="left:337.00px;top:499.82px;width:80px;transform:scaleX(0.980)">324</div>
<div class="t d" style="left:392.20px;top:499.82px;width:80px;transform:scaleX(0.980)">360</div>
<div class="t d" style="left:454.60px;top:499.82px;width:80px;transform:scaleX(0.980)">702</div>
<div class="t d" style="left:509.80px;top:499.82px;width:80px;transform:scaleX(0.980)">780</div>
<div class="t d" style="left:572.00px;top:499.82px;width:80px;transform:scaleX(0.980)">1404</div>
<div class="t d" style="left:627.20px;top:499.82px;width:80px;transform:scaleX(0.980)">1560</div>
<div class="b" style="left:4px;top:505.90000000000003px;width:33.00px;height:14.55px;background:#fbe7d7"></div>
<div class="b" style="left:37px;top:505.90000000000003px;width:35.00px;height:14.55px;background:#daeaf1"></div>
<div class="b" style="left:72px;top:505.90000000000003px;width:152.00px;height:14.55px;background:#fbe7d7"></div>
<div class="b" style="left:231.8px;top:505.90000000000003px;width:110.00px;height:14.55px;background:#fbe7d7"></div>
<div class="b" style="left:349.4px;top:505.90000000000003px;width:110.00px;height:14.55px;background:#fbe7d7"></div>
<div class="b" style="left:467.0px;top:505.90000000000003px;width:110.00px;height:14.55px;background:#daeaf1"></div>
<div class="b" style="left:584.4px;top:505.90000000000003px;width:110.00px;height:14.55px;background:#daeaf1"></div>
<div class="t d" style="left:-19.30px;top:515.37px;width:80px;transform:scaleX(0.980)">22</div>
<div class="t d" style="left:14.90px;top:515.37px;width:80px;transform:scaleX(0.980)">6</div>
<div class="t d" style="left:54.80px;top:515.37px;width:80px;transform:scaleX(0.980)">3</div>
<div class="t m" style="left:109.40px;top:515.37px;width:80px;transform:scaleX(1.016)">64-QAM</div>
<div class="t d" style="left:164.30px;top:515.37px;width:80px;transform:scaleX(1.043)">3/4</div>
<div class="t d" style="left:219.40px;top:515.37px;width:80px;transform:scaleX(0.980)">175.5</div>
<div class="t d" style="left:274.60px;top:515.37px;width:80px;transform:scaleX(0.980)">195</div>
<div class="t d" style="left:337.00px;top:515.37px;width:80px;transform:scaleX(0.980)">364.5</div>
<div class="t d" style="left:392.20px;top:515.37px;width:80px;transform:scaleX(0.980)">405</div>
<div class="t m" style="left:454.60px;top:515.37px;width:80px;transform:scaleX(0.953)">n/a</div>
<div class="t m" style="left:509.80px;top:515.37px;width:80px;transform:scaleX(0.953)">n/a</div>
<div class="t d" style="left:572.00px;top:515.37px;width:80px;transform:scaleX(0.980)">1579.5</div>
<div class="t d" style="left:627.20px;top:515.37px;width:80px;transform:scaleX(0.980)">1755</div>
<div class="b" style="left:4px;top:521.45px;width:33.00px;height:14.55px;background:#fbe7d7"></div>
<div class="b" style="left:37px;top:521.45px;width:35.00px;height:14.55px;background:#daeaf1"></div>
<div class="b" style="left:72px;top:521.45px;width:152.00px;height:14.55px;background:#fbe7d7"></div>
<div class="b" style="left:231.8px;top:521.45px;width:110.00px;height:14.55px;background:#fbe7d7"></div>
<div class="b" style="left:349.4px;top:521.45px;width:110.00px;height:14.55px;background:#fbe7d7"></div>
<div class="b" style="left:467.0px;top:521.45px;width:110.00px;height:14.55px;background:#daeaf1"></div>
<div class="b" style="left:584.4px;top:521.45px;width:110.00px;height:14.55px;background:#daeaf1"></div>
<div class="t d" style="left:-19.30px;top:530.92px;width:80px;transform:scaleX(0.980)">23</div>
<div class="t d" style="left:14.90px;top:530.92px;width:80px;transform:scaleX(0.980)">7</div>
<div class="t d" style="left:54.80px;top:530.92px;width:80px;transform:scaleX(0.980)">3</div>
<div class="t m" style="left:109.40px;top:530.92px;width:80px;transform:scaleX(1.016)">64-QAM</div>
<div class="t d" style="left:164.30px;top:530.92px;width:80px;transform:scaleX(1.043)">5/6</div>
<div class="t d" style="left:219.40px;top:530.92px;width:80px;transform:scaleX(0.980)">195</div>
<div class="t d" style="left:274.60px;top:530.92px;width:80px;transform:scaleX(0.980)">216.7</div>
<div class="t d" style="left:337.00px;top:530.92px;width:80px;transform:scaleX(0.980)">405</div>
<div class="t d bo" style="left:392.20px;top:530.92px;width:80px;transform:scaleX(0.980)">450</div>
<div class="t d" style="left:454.60px;top:530.92px;width:80px;transform:scaleX(0.980)">877.5</div>
<div class="t d" style="left:509.80px;top:530.92px;width:80px;transform:scaleX(0.980)">975</div>
<div class="t d" style="left:572.00px;top:530.92px;width:80px;transform:scaleX(0.980)">1755</div>
<div class="t d" style="left:627.20px;top:530.92px;width:80px;transform:scaleX(0.980)">1950</div>
<div class="b" style="left:37px;top:537.0px;width:187.00px;height:14.55px;background:#daeaf1"></div>
<div class="b" style="left:231.8px;top:537.0px;width:110.00px;height:14.55px;background:#daeaf1"></div>
<div class="b" style="left:349.4px;top:537.0px;width:110.00px;height:14.55px;background:#daeaf1"></div>
<div class="b" style="left:467.0px;top:537.0px;width:110.00px;height:14.55px;background:#daeaf1"></div>
<div class="b" style="left:584.4px;top:537.0px;width:110.00px;height:14.55px;background:#daeaf1"></div>
<div class="t d" style="left:14.90px;top:546.47px;width:80px;transform:scaleX(0.980)">8</div>
<div class="t d" style="left:54.80px;top:546.47px;width:80px;transform:scaleX(0.980)">3</div>
<div class="t m" style="left:109.40px;top:546.47px;width:80px;transform:scaleX(1.000)">256-QAM</div>
<div class="t d" style="left:164.30px;top:546.47px;width:80px;transform:scaleX(1.043)">3/4</div>
<div class="t d" style="left:219.40px;top:546.47px;width:80px;transform:scaleX(0.980)">234</div>
<div class="t d" style="left:274.60px;top:546.47px;width:80px;transform:scaleX(0.980)">260</div>
<div class="t d" style="left:337.00px;top:546.47px;width:80px;transform:scaleX(0.980)">486</div>
<div class="t d" style="left:392.20px;top:546.47px;width:80px;transform:scaleX(0.980)">540</div>
<div class="t d" style="left:454.60px;top:546.47px;width:80px;transform:scaleX(0.980)">1053</div>
<div class="t d" style="left:509.80px;top:546.47px;width:80px;transform:scaleX(0.980)">1170</div>
<div class="t d" style="left:572.00px;top:546.47px;width:80px;transform:scaleX(0.980)">2106</div>
<div class="t d" style="left:627.20px;top:546.47px;width:80px;transform:scaleX(0.980)">2340</div>
<div class="b" style="left:37px;top:552.5500000000001px;width:187.00px;height:15.05px;background:#daeaf1"></div>
<div class="b" style="left:231.8px;top:552.5500000000001px;width:110.00px;height:15.05px;background:#daeaf1"></div>
<div class="b" style="left:349.4px;top:552.5500000000001px;width:110.00px;height:15.05px;background:#daeaf1"></div>
<div class="b" style="left:467.0px;top:552.5500000000001px;width:110.00px;height:15.05px;background:#daeaf1"></div>
<div class="b" style="left:584.4px;top:552.5500000000001px;width:110.00px;height:15.05px;background:#daeaf1"></div>
<div class="t d" style="left:14.90px;top:562.02px;width:80px;transform:scaleX(0.980)">9</div>
<div class="t d" style="left:54.80px;top:562.02px;width:80px;transform:scaleX(0.980)">3</div>
<div class="t m" style="left:109.40px;top:562.02px;width:80px;transform:scaleX(1.000)">256-QAM</div>
<div class="t d" style="left:164.30px;top:562.02px;width:80px;transform:scaleX(1.043)">5/6</div>
<div class="t d" style="left:219.40px;top:562.02px;width:80px;transform:scaleX(0.980)">260</div>
<div class="t d" style="left:274.60px;top:562.02px;width:80px;transform:scaleX(0.980)">288.9</div>
<div class="t d" style="left:337.00px;top:562.02px;width:80px;transform:scaleX(0.980)">540</div>
<div class="t d bo" style="left:392.20px;top:562.02px;width:80px;transform:scaleX(0.980)">600</div>
<div class="t d" style="left:454.60px;top:562.02px;width:80px;transform:scaleX(0.980)">1170</div>
<div class="t d bo" style="left:509.80px;top:562.02px;width:80px;transform:scaleX(0.980)">1300</div>
<div class="t m" style="left:572.00px;top:562.02px;width:80px;transform:scaleX(0.953)">n/a</div>
<div class="t m" style="left:627.20px;top:562.02px;width:80px;transform:scaleX(0.953)">n/a</div>
</body></html>
